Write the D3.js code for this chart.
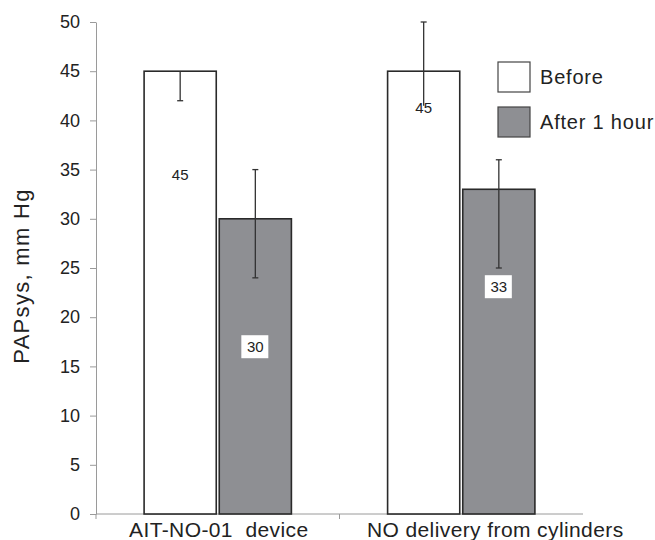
<!DOCTYPE html>
<html>
<head>
<meta charset="utf-8">
<title>PAPsys</title>
<script src="https://cdnjs.cloudflare.com/ajax/libs/d3/7.8.5/d3.min.js"></script>
<style>
  body { margin: 0; background: #fff; }
  text { font-family: "Liberation Sans", Arial, sans-serif; fill: #222; }
</style>
</head>
<body>
<div id="chart"></div>
<script>
// chart data
const categories = ["AIT-NO-01  device", "NO delivery from cylinders"];
const seriesNames = ["Before", "After 1 hour"];
const beforeValues = [45, 45];
const afterValues = [30, 33];
// error bar ends (low, high); null = not drawn
const beforeErrLow = [42, 41.5];
const beforeErrHigh = [null, 50];
const afterErrLow = [24, 25];
const afterErrHigh = [35, 36];
// lower caps that are visible in the picture
const beforeLowCap = [true, false];
const afterLowCap = [true, true];
// where the value labels sit, in axis units
const beforeLabelAt = [34.5, 41.3];
const afterLabelAt = [17, 23.1];
const yTicks = [0, 5, 10, 15, 20, 25, 30, 35, 40, 45, 50];

const width = 655, height = 540;
const mLeft = 96, mRight = 583, mTop = 22, mBottom = 514;
// category labels are not centred on the second band in the original
const catLabelShift = [1, 34];

const svg = d3.select("#chart").append("svg")
    .attr("width", width)
    .attr("height", height);

const y = d3.scaleLinear().domain([0, 50]).range([mBottom, mTop]);
const x0 = d3.scaleBand().domain(categories).range([mLeft, mRight]).padding(0);
const x1 = d3.scaleBand().domain(seriesNames).range([0, x0.bandwidth()])
    .paddingInner(0.04).paddingOuter(0.64);

const fills = { "Before": "#ffffff", "After 1 hour": "#8e8f93" };

// y axis
const yAxis = svg.append("g")
    .attr("transform", `translate(${mLeft},0)`)
    .call(d3.axisLeft(y).tickValues(yTicks).tickSize(6).tickPadding(10).tickSizeOuter(0));
yAxis.select(".domain").attr("stroke", "#9a9a9a");
yAxis.selectAll(".tick line").attr("stroke", "#9a9a9a");
yAxis.selectAll(".tick text")
    .style("font-size", "18px")
    .style("font-family", "'Liberation Sans', Arial, sans-serif")
    .attr("fill", "#222");

// x axis
const xAxis = svg.append("g")
    .attr("transform", `translate(0,${mBottom})`);
xAxis.append("line")
    .attr("x1", mLeft).attr("x2", mRight)
    .attr("stroke", "#9a9a9a");
xAxis.selectAll("line.sep")
    .data([mLeft, x0(categories[1])])
    .enter().append("line")
    .attr("class", "sep")
    .attr("x1", d => d).attr("x2", d => d)
    .attr("y1", 0).attr("y2", 5)
    .attr("stroke", "#9a9a9a");
xAxis.selectAll("text")
    .data(categories)
    .enter().append("text")
    .attr("x", (d, i) => x0(d) + x0.bandwidth() / 2 + catLabelShift[i])
    .attr("y", 23)
    .attr("text-anchor", "middle")
    .style("font-size", "21px")
    .style("letter-spacing", "0.4px")
    .style("white-space", "pre")
    .text(d => d);

// y title
svg.append("text")
    .attr("transform", `translate(29,276) rotate(-90)`)
    .attr("text-anchor", "middle")
    .style("font-size", "22px")
    .style("letter-spacing", "1.3px")
    .text("PAPsys, mm Hg");

// bars
const rows = categories.map((c, i) => [
    { cat: c, s: "Before", v: beforeValues[i], lo: beforeErrLow[i], hi: beforeErrHigh[i], cap: beforeLowCap[i], lab: beforeLabelAt[i] },
    { cat: c, s: "After 1 hour", v: afterValues[i], lo: afterErrLow[i], hi: afterErrHigh[i], cap: afterLowCap[i], lab: afterLabelAt[i] }
]).flat();

const bx = d => x0(d.cat) + x1(d.s);

svg.selectAll("rect.bar")
    .data(rows)
    .enter().append("rect")
    .attr("class", "bar")
    .attr("x", bx)
    .attr("y", d => y(d.v))
    .attr("width", x1.bandwidth())
    .attr("height", d => y(0) - y(d.v))
    .attr("fill", d => fills[d.s])
    .attr("stroke", "#2a2a2a")
    .attr("stroke-width", 1.6);

// error bars
const err = svg.append("g").attr("stroke", "#333").attr("stroke-width", 1.3);
rows.forEach(d => {
    const cx = bx(d) + x1.bandwidth() / 2;
    const a = d.lo != null ? d.lo : d.v;
    const b = d.hi != null ? d.hi : d.v;
    err.append("line").attr("x1", cx).attr("x2", cx).attr("y1", y(a)).attr("y2", y(b));
    if (d.hi != null) err.append("line").attr("x1", cx - 3).attr("x2", cx + 3).attr("y1", y(d.hi)).attr("y2", y(d.hi));
    if (d.lo != null && d.cap) err.append("line").attr("x1", cx - 3).attr("x2", cx + 3).attr("y1", y(d.lo)).attr("y2", y(d.lo));
});

// value labels
rows.forEach(d => {
    const cx = bx(d) + x1.bandwidth() / 2;
    if (d.s === "After 1 hour") {
        svg.append("rect")
            .attr("x", cx - 14).attr("y", y(d.lab) - 11.5)
            .attr("width", 27).attr("height", 23)
            .attr("fill", "#fff");
    }
    svg.append("text")
        .attr("x", cx)
        .attr("y", y(d.lab) + 5.5)
        .attr("text-anchor", "middle")
        .style("font-size", "15px")
        .text(d.v);
});

// legend
const legend = svg.append("g").attr("transform", "translate(498,62)");
seriesNames.forEach((s, i) => {
    const g = legend.append("g").attr("transform", `translate(0,${i * 45})`);
    g.append("rect")
        .attr("width", 32).attr("height", 30)
        .attr("fill", fills[s])
        .attr("stroke", "#444").attr("stroke-width", 1.2);
    g.append("text")
        .attr("x", 42).attr("y", 22)
        .style("font-size", "20px")
        .style("letter-spacing", "0.8px")
        .text(s);
});
</script>
</body>
</html>
